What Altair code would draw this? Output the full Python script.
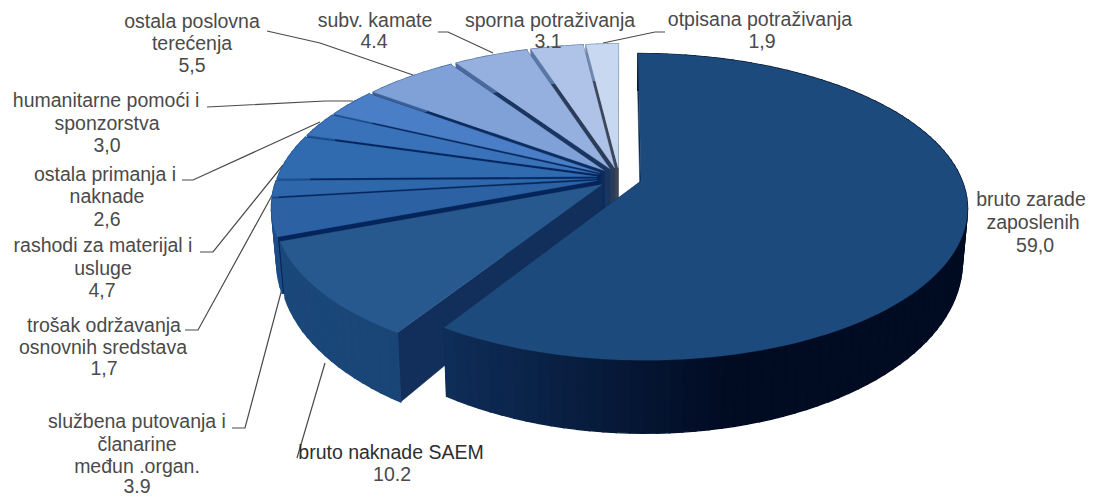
import math
import altair as alt

# ---- data ---------------------------------------------------------------------
categories = ["bruto zarade zaposlenih", "bruto naknade SAEM", "službena putovanja i članarine međun.organ.",
              "trošak održavanja osnovnih sredstava", "rashodi za materijal i usluge", "ostala primanja i naknade",
              "humanitarne pomoći i sponzorstva", "ostala poslovna terećenja", "subv. kamate",
              "sporna potraživanja", "otpisana potraživanja"]
values = [59.0, 10.2, 3.9, 1.7, 4.7, 2.6, 3.0, 5.5, 4.4, 3.1, 1.9]

# ---- styles -------------------------------------------------------------------
top_colors = ["#1c4a7c", "#27598f", "#2c62a4", "#2e67aa", "#306bb0", "#3a72ba", "#4a7ec6",
              "#7fa1d7", "#95b0df", "#aec3e7", "#c8d8f1"]
wall_left = ["#0f2e5a", "#1b487b", "#1d4c86", "#1d4c86", "#1f5090", "#1f5090", "#20528f",
             "#3a5f95", "#4a6a9c", "#5a78a5", "#7088b0"]
wall_right = ["#010b22", "#16406f", "#1d4c86", "#1d4c86", "#1f5090", "#1f5090", "#20528f",
              "#3a5f95", "#4a6a9c", "#5a78a5", "#7088b0"]
face_colors = ["#0d2a52", "#122f5c", "#04245a", "#04245a", "#04245a", "#04245a", "#08285c",
               "#0c2c5e", "#1a3560", "#2b3c58", "#3c4658"]

# ---- 3D pie geometry (parameters of the drawing, not data) ---------------------
W, H = 1079, 488
CX, CY = 619.5 - 8, 178 - 8
A, B, P = 320.0, 148.0, 0.169
EXPLODE = 0.07
DROP = 50.0


def project(u, v, lowered):
    w = 1 + P * v
    sx = CX + A * u / w
    sy = CY - B * v / w
    if lowered:
        sx = CX + (sx - CX) * 0.985
        sy += DROP / (w * w)
    return [round(sx, 2), round(sy, 2)]


def mix(c1, c2, t):
    t = max(0.0, min(1.0, t))
    a = [int(c1[i:i + 2], 16) for i in (1, 3, 5)]
    b = [int(c2[i:i + 2], 16) for i in (1, 3, 5)]
    return "#%02x%02x%02x" % tuple(round(x + (y - x) * t) for x, y in zip(a, b))


def poly(points, fill, sw):
    return {"type": "Feature", "properties": {"fill": fill, "sw": sw},
            "geometry": {"type": "Polygon", "coordinates": [points + [points[0]]]}}


features = []
total = sum(values)
bounds = []
acc = 0.0
for v in values:
    bounds.append((acc / total * 2 * math.pi, (acc + v) / total * 2 * math.pi))
    acc += v

# painter's order: small slices from the back round to the front, then the big one
order = list(range(len(values) - 1, 0, -1)) + [0]
for i in order:
    a0, a1 = bounds[i]
    mid = (a0 + a1) / 2
    ox, oy = EXPLODE * math.sin(mid), EXPLODE * math.cos(mid)
    n = max(2, int((a1 - a0) / math.radians(2.0)))
    angs = [a0 + (a1 - a0) * k / n for k in range(n + 1)]
    pt = lambda a, r=1.0: (ox + r * math.sin(a), oy + r * math.cos(a))

    # cut faces
    for a in (a0, a1):
        features.append(poly([project(ox, oy, False), project(*pt(a), False),
                              project(*pt(a), True), project(ox, oy, True)], face_colors[i], 0.5))
    # outer wall, in strips so that the shade can change along it
    front = [project(*pt(a), False)[0] for a in angs if math.cos(a) < 0.3]
    xmin = min(front) if front else CX
    for k in range(n):
        p0, p1 = pt(angs[k]), pt(angs[k + 1])
        q = project(*p0, False)
        col = mix(wall_left[i], wall_right[i], (q[0] - xmin) / 290.0)
        features.append(poly([project(*p0, False), project(*p1, False),
                              project(*p1, True), project(*p0, True)], col, 1.4))
    # top
    features.append(poly([project(ox, oy, False)] + [project(*pt(a), False) for a in angs],
                         top_colors[i], 0.3))

# ---- label layout --------------------------------------------------------------
label_lines = [
    ("ostala poslovna", 192, 22), ("terećenja", 192, 44), ("5,5", 192, 66),
    ("subv. kamate", 375, 21), ("4.4", 374, 42),
    ("sporna potraživanja", 550, 21), ("3.1", 548, 42),
    ("otpisana potraživanja", 760, 20), ("1,9", 762, 42),
    ("humanitarne pomoći i", 106, 101), ("sponzorstva", 107, 124), ("3,0", 107, 146),
    ("ostala primanja i", 105, 175), ("naknade", 107, 197), ("2,6", 107, 220),
    ("rashodi za materijal i", 103, 246), ("usluge", 103, 269), ("4,7", 102, 291),
    ("trošak održavanja", 104, 326), ("osnovnih sredstava", 103, 348), ("1,7", 104, 369),
    ("službena putovanja i", 137, 422), ("članarine", 137, 445), ("međun .organ.", 137, 467), ("3.9", 137, 487),
    ("bruto naknade SAEM", 391, 453), ("10.2", 392, 475),
    ("bruto zarade", 1031, 200), ("zaposlenih", 1033, 223), ("59,0", 1035, 246),
]
leaders = [
    [(267, 31), (320, 43), (413, 75)],
    [(438, 32), (448, 32), (493, 53)],
    [(603, 43), (655, 32), (665, 32)],
    [(207, 107), (325, 101), (353, 101)],
    [(182, 180), (193, 180), (320, 122)],
    [(200, 252), (213, 252), (283, 165)],
    [(185, 330), (198, 330), (275, 190)],
    [(232, 428), (245, 428), (283, 285)],
    [(297, 458), (325, 363)],
]

label_rows = [{"t": t, "x": x - 8, "y": y - 8,
               "c": "#2e2e2e" if t == "bruto naknade SAEM" else "#4a4a4a"} for t, x, y in label_lines]
leader_rows = [{"id": i, "n": k, "x": x - 8, "y": y - 8}
               for i, pts in enumerate(leaders) for k, (x, y) in enumerate(pts)]

xs = alt.Scale(domain=[0, W], range=[0, W])
ys = alt.Scale(domain=[0, H], range=[0, H])

pie = alt.Chart(alt.InlineData(values={"type": "FeatureCollection", "features": features},
                               format=alt.DataFormat(type="json", property="features"))
                ).mark_geoshape().encode(
    fill=alt.Fill("properties.fill:N", scale=None),
    stroke=alt.Stroke("properties.fill:N", scale=None),
    strokeWidth=alt.StrokeWidth("properties.sw:Q", scale=None),
).project(type="identity", scale=1, translate=[0, 0])

lines = alt.Chart(alt.Data(values=leader_rows)).mark_line(color="#4a4a4a", strokeWidth=1.2).encode(
    x=alt.X("x:Q", scale=xs, axis=None),
    y=alt.Y("y:Q", scale=ys, axis=None),
    detail="id:N",
    order="n:Q",
)

texts = alt.Chart(alt.Data(values=label_rows)).mark_text(
    font="Liberation Sans", fontSize=19.5, align="center", baseline="middle"
).encode(
    x=alt.X("x:Q", scale=xs, axis=None),
    y=alt.Y("y:Q", scale=ys, axis=None),
    text="t:N",
    color=alt.Color("c:N", scale=None),
)

chart = alt.layer(lines, pie, texts).properties(
    width=W, height=H, padding=0, background="white",
    autosize=alt.AutoSizeParams(type="none"),
).configure_view(stroke=None)

chart.save("out.html", embed_options={"renderer": "svg", "actions": False})
